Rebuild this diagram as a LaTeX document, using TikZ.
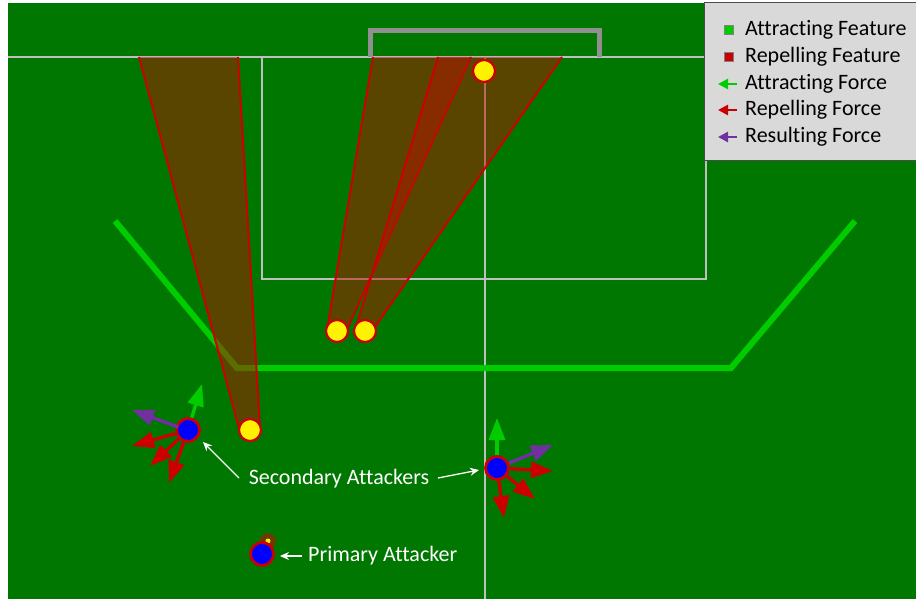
\documentclass[tikz,border=0pt]{standalone}
\usepackage{fontspec}
\setmainfont{Carlito}[Ligatures={NoCommon,NoRare,NoDiscretionary}]
\usetikzlibrary{arrows.meta}
\definecolor{field}{HTML}{007700}
\definecolor{fline}{HTML}{C0C0C0}
\definecolor{goalc}{HTML}{909090}
\definecolor{attr}{HTML}{00CC00}
\definecolor{repl}{HTML}{CC0000}
\definecolor{resc}{HTML}{7030A0}
\definecolor{conec}{HTML}{B41400}
\definecolor{legbg}{HTML}{D9D9D9}
\tikzset{
  fieldline/.style={draw=fline, line width=2pt},
  cone/.style={fill=conec, fill opacity=0.5},
  coneedge/.style={draw=repl, line width=2pt},
  ball/.style={circle, fill=yellow, draw=repl, line width=2.2pt, minimum size=22pt, inner sep=0pt},
  player/.style={circle, fill=blue, draw=repl, line width=2.8pt, minimum size=23pt, inner sep=0pt},
  force/.style={line width=3.4pt, arrows={-Triangle[length=22pt 0, width=16pt 0]}},
  attrarrow/.style={force, draw=attr},
  replarrow/.style={force, draw=repl},
  resarrow/.style={force, draw=resc},
  label/.style={text=white, font=\fontsize{22}{26}\selectfont, inner sep=0pt},
  pointer/.style={draw=white, line width=1.3pt, -{Stealth[length=9pt,width=8pt]}},
  legtext/.style={anchor=west, font=\fontsize{22}{26}\selectfont, inner sep=0pt},
  legsq/.style={minimum size=9pt, inner sep=0pt, draw=gray, line width=0.5pt},
  legarrow/.style={line width=2.8pt, arrows={-Triangle[length=10pt 0, width=10pt 0]}}
}
\begin{document}
\begin{tikzpicture}[x=1pt,y=-1pt]
\useasboundingbox (0,0) rectangle (916,599);
\fill[white] (0,0) rectangle (916,599);
\fill[field] (8,3) rectangle (916,599);
% field lines
\draw[fieldline] (8,57) -- (916,57);
\draw[fieldline] (262,57) -- (262,279) -- (706,279) -- (706,57);
\draw[fieldline] (485,57) -- (485,599);
\draw[draw=goalc, line width=5pt] (370,57) -- (370,31) -- (599,31) -- (599,57);
% attracting line
\draw[draw=attr, line width=6pt] (115,221) -- (237,368) -- (731,368) -- (855,221);
% cones
\fill[cone] (139,57) -- (238,57) -- (260,428) -- (239,428) -- cycle;
\draw[coneedge] (139,57) -- (239,428) (238,57) -- (260,428);
\fill[cone] (373,57) -- (471,57) -- (348,327) -- (327,330) -- cycle;
\draw[coneedge] (373,57) -- (327,330) (471,57) -- (348,327);
\fill[cone] (438,57) -- (562,57) -- (375,327) -- (355,330) -- cycle;
\draw[coneedge] (438,57) -- (355,330) (562,57) -- (375,327);
% defenders / balls
\node[ball] (b1) at (250,430) {};
\node[ball] (b2) at (337,331) {};
\node[ball] (b3) at (365,331) {};
\node[ball] (b4) at (484,71) {};
% primary ball
\fill[conec, fill opacity=0.6] (268,541) circle (8pt);
\fill[yellow!90!orange] (268,541) circle (2.5pt);
% players
\node[player] (s1) at (188,430) {};
\node[player] (s2) at (497,468) {};
\node[player] (pa) at (262,554) {};
% forces player 1
\coordinate (s1g) at (202,384);
\coordinate (s1p) at (132,410);
\coordinate (s1r1) at (132,446);
\coordinate (s1r2) at (150,466);
\coordinate (s1r3) at (169,483);
\draw[attrarrow] (s1) -- (s1g);
\draw[resarrow] (s1.center) ++(-10,-3) -- (s1p);
\draw[replarrow] (s1) -- (s1r1);
\draw[replarrow] (s1) -- (s1r2);
\draw[replarrow] (s1) -- (s1r3);
% forces player 2
\coordinate (s2g) at (497,418);
\coordinate (s2p) at (553,445);
\coordinate (s2r1) at (553,471);
\coordinate (s2r2) at (535,499);
\coordinate (s2r3) at (504,518);
\draw[attrarrow] (s2) -- (s2g);
\draw[resarrow] (s2) -- (s2p);
\draw[replarrow] (s2) -- (s2r1);
\draw[replarrow] (s2) -- (s2r2);
\draw[replarrow] (s2) -- (s2r3);
% labels
\node[label] (sec) at (339,479) {Secondary Attackers};
\node[label, anchor=west] (pri) at (308,556) {Primary Attacker};
\coordinate (secL) at (239,478);
\coordinate (secR) at (438,478);
\coordinate (priL) at (302,556);
\coordinate (s1t) at (203,442);
\coordinate (s2t) at (479,470);
\coordinate (pat) at (280,556);
\draw[pointer] (secL) -- (s1t);
\draw[pointer] (secR) -- (s2t);
\draw[pointer] (priL) -- (pat);
% legend
\draw[fill=legbg, draw=black!70, line width=1pt] (704,3) rectangle (917,161);
\node[legsq, fill=attr] (l1) at (729,30) {};
\node[legsq, fill=repl] (l2) at (729,57) {};
\coordinate (l3a) at (737,84);
\coordinate (l3b) at (718,84);
\coordinate (l4a) at (737,110);
\coordinate (l4b) at (718,110);
\coordinate (l5a) at (737,137);
\coordinate (l5b) at (718,137);
\draw[legarrow, draw=attr] (l3a) -- (l3b);
\draw[legarrow, draw=repl] (l4a) -- (l4b);
\draw[legarrow, draw=resc] (l5a) -- (l5b);
\node[legtext] (t1) at (745,30) {Attracting Feature};
\node[legtext] (t2) at (745,57) {Repelling Feature};
\node[legtext] (t3) at (745,84) {Attracting Force};
\node[legtext] (t4) at (745,110) {Repelling Force};
\node[legtext] (t5) at (745,137) {Resulting Force};
\end{tikzpicture}
\end{document}
